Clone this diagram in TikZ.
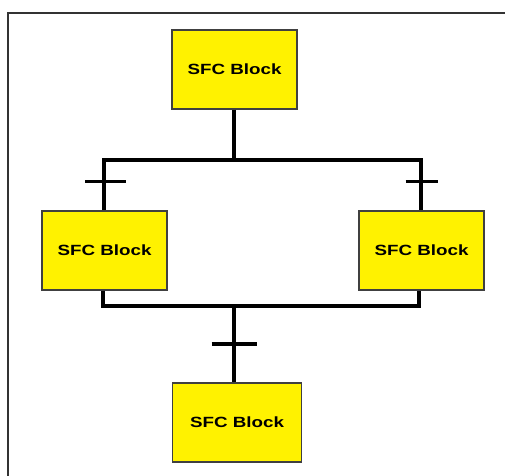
\documentclass[tikz,border=0pt]{standalone}
\usepackage{fontspec}
\newfontfamily\sfcfont[FakeStretch=1.27]{Liberation Sans}
\begin{document}
\begin{tikzpicture}[x=1pt,y=-1pt,
  sfcblock/.style={draw=black!75, line width=1.3pt, fill=yellow, minimum width=125pt, minimum height=79pt, inner sep=0pt, font=\sfcfont\bfseries\fontsize{14.8pt}{16pt}\selectfont, text=black},
  wire/.style={line width=4pt, black, line join=miter},
  trans/.style={line width=3.5pt, black},
  frame/.style={line width=1.6pt, black!80}]
\useasboundingbox (0,0) rectangle (505,475);
\fill[white] (0,0) rectangle (505,475);
\draw[frame] (8,476) -- (8,13) -- (506,13);
% blocks
\node[sfcblock] (top) at (234.5,69.5) {SFC Block};
\node[sfcblock] (left) at (104.5,250.5) {SFC Block};
\node[sfcblock] (right) at (421.5,250.5) {SFC Block};
\node[sfcblock, minimum width=129pt] (bot) at (237,422.5) {SFC Block};
% junction coordinates
\coordinate (divM) at (234,160);
\coordinate (divL) at (103.5,160);
\coordinate (divR) at (420.5,160);
\coordinate (conL) at (102.5,305.5);
\coordinate (conR) at (418.5,305.5);
\coordinate (conM) at (234,305.5);
% divergence
\draw[wire] (top.south -| divM) -- (divM);
\draw[wire] (divL |- left.north) -- (divL) -- (divR) -- (divR |- right.north);
% convergence
\draw[wire] (conL |- left.south) -- (conL) -- (conR) -- (conR |- right.south);
\draw[wire] (conM) -- (conM |- bot.north);
% transitions
\coordinate (tL) at (103.5,181.5);
\coordinate (tR) at (420.5,181.5);
\coordinate (tB) at (234,344);
\draw[trans] ([xshift=-18.5pt]tL) -- ([xshift=22.5pt]tL);
\draw[trans] ([xshift=-15pt]tR) -- ([xshift=17.5pt]tR);
\draw[trans] ([xshift=-22.5pt]tB) -- ([xshift=22.5pt]tB);
\end{tikzpicture}
\end{document}
